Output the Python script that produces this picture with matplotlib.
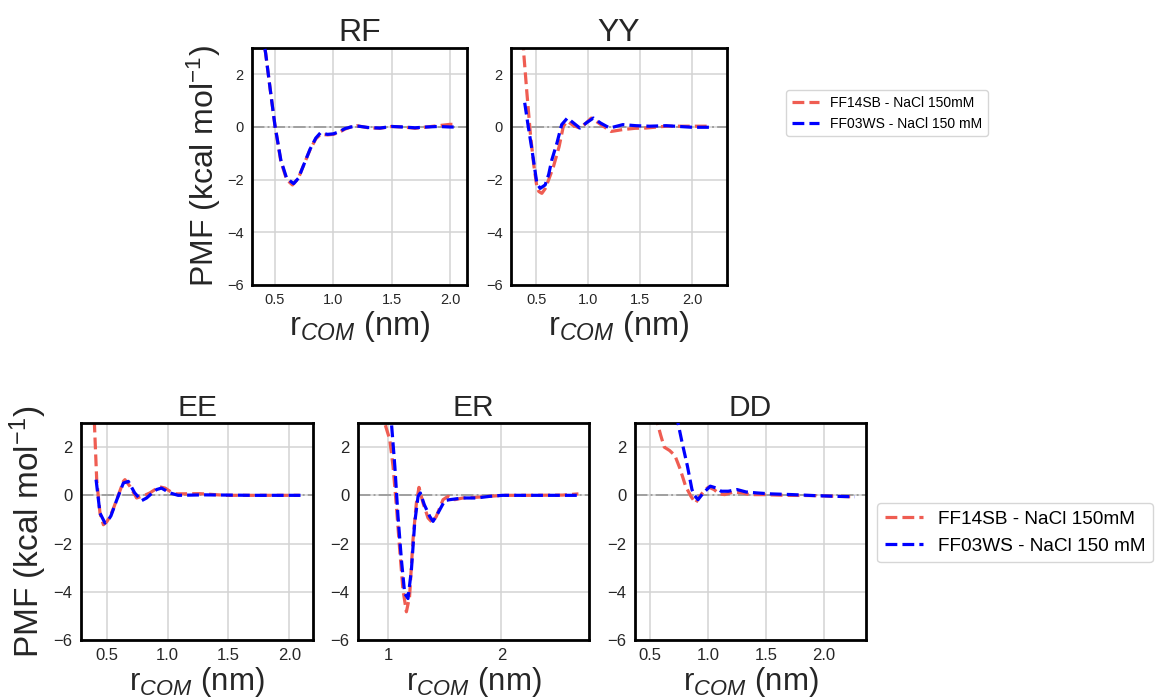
import numpy as np
import matplotlib
matplotlib.use("Agg")
import matplotlib.pyplot as plt

plt.rcParams['font.family'] = ['Liberation Sans', 'DejaVu Sans']
plt.rcParams['mathtext.fontset'] = 'custom'
plt.rcParams['mathtext.rm'] = 'Liberation Sans'
plt.rcParams['mathtext.it'] = 'Liberation Sans:italic'
plt.rcParams['mathtext.bf'] = 'Liberation Sans:bold'

# -----------------------------
# Data
# -----------------------------
LABEL_14 = "FF14SB - NaCl 150mM"
LABEL_03 = "FF03WS - NaCl 150 mM"

# RF
rf_r_14 = [0.39, 0.42, 0.46, 0.50, 0.55, 0.60, 0.65, 0.70, 0.75, 0.80, 0.85, 0.89, 0.95,
           1.00, 1.05, 1.10, 1.15, 1.20, 1.30, 1.40, 1.50, 1.60, 1.70, 1.80, 1.90, 2.00, 2.06]
rf_pmf_14 = [3.6, 2.8, 1.4, 0.05, -1.3, -2.0, -2.2, -1.95, -1.4, -0.87, -0.45, -0.28, -0.3,
             -0.28, -0.2, -0.08, 0.0, 0.05, -0.03, -0.05, 0.02, 0.0, -0.05, 0.0, 0.05, 0.1, 0.1]
rf_r_03 = [0.39, 0.42, 0.46, 0.50, 0.55, 0.60, 0.66, 0.70, 0.75, 0.80, 0.85, 0.89, 0.95,
           1.00, 1.05, 1.10, 1.15, 1.20, 1.30, 1.40, 1.50, 1.60, 1.70, 1.80, 1.90, 2.00, 2.06]
rf_pmf_03 = [3.6, 2.8, 1.4, 0.05, -1.25, -1.95, -2.15, -1.95, -1.4, -0.85, -0.42, -0.22, -0.28,
             -0.26, -0.18, -0.06, 0.0, 0.04, -0.02, -0.04, 0.02, 0.0, -0.03, 0.0, 0.02, 0.0, 0.0]

# YY
yy_r_14 = [0.365, 0.379, 0.41, 0.443, 0.475, 0.506, 0.525, 0.554, 0.585, 0.62, 0.666, 0.72,
           0.761, 0.80, 0.86, 0.92, 0.98, 1.03, 1.12, 1.22, 1.33, 1.45, 1.557, 1.75, 2.0, 2.19]
yy_pmf_14 = [4.0, 2.83, 1.3, -0.23, -1.4, -2.27, -2.45, -2.52, -2.35, -2.0, -1.5, -0.75,
             0.03, 0.22, 0.05, -0.04, 0.15, 0.34, 0.1, -0.17, -0.1, -0.05, -0.04, 0.03, 0.03, 0.03]
yy_r_03 = [0.389, 0.42, 0.459, 0.506, 0.538, 0.586, 0.62, 0.65, 0.70, 0.745, 0.80, 0.86,
           0.92, 0.98, 1.05, 1.12, 1.207, 1.334, 1.46, 1.59, 1.75, 2.0, 2.19]
yy_pmf_03 = [0.92, 0.1, -0.87, -2.14, -2.33, -2.2, -1.8, -1.25, -0.6, 0.09, 0.34, 0.15,
             -0.04, 0.15, 0.34, 0.15, -0.04, 0.09, 0.05, 0.03, 0.05, -0.01, -0.01]

# EE
ee_r_14 = [0.39, 0.399, 0.418, 0.445, 0.473, 0.50, 0.527, 0.555, 0.582, 0.61, 0.637, 0.65,
           0.69, 0.746, 0.787, 0.82, 0.855, 0.90, 0.937, 0.98, 1.019, 1.07, 1.265, 1.48,
           1.70, 1.92, 2.085]
ee_pmf_14 = [3.8, 3.0, 0.65, -0.74, -1.22, -1.1, -0.88, -0.55, -0.18, 0.2, 0.58, 0.65,
             0.38, -0.11, -0.04, 0.02, 0.1, 0.25, 0.35, 0.3, 0.17, 0.06, 0.07, 0.0,
             0.0, 0.0, 0.0]
ee_r_03 = [0.413, 0.445, 0.486, 0.51, 0.535, 0.582, 0.637, 0.678, 0.73, 0.787, 0.828,
           0.87, 0.91, 0.95, 1.02, 1.087, 1.3, 1.5, 1.7, 1.9, 2.1]
ee_pmf_03 = [0.65, -0.74, -1.15, -1.05, -0.85, -0.2, 0.51, 0.58, 0.1, -0.22, -0.11,
             0.08, 0.24, 0.3, 0.1, 0.0, 0.02, 0.01, 0.0, 0.0, 0.0]

# ER
er_r_14 = [0.95, 0.97, 1.015, 1.044, 1.074, 1.103, 1.132, 1.162, 1.19, 1.22, 1.25, 1.273,
           1.309, 1.353, 1.39, 1.426, 1.485, 1.53, 1.588, 1.66, 1.78, 1.90, 2.01, 2.25,
           2.54, 2.68]
er_pmf_14 = [3.6, 3.0, 2.32, 1.21, -0.46, -2.26, -3.93, -4.83, -4.2, -1.85, -0.32, 0.33,
             -0.32, -0.94, -1.125, -0.875, -0.18, -0.04, -0.18, -0.11, -0.08, -0.04, 0.0, 0.0,
             0.01, 0.06]
er_r_03 = [1.02, 1.03, 1.06, 1.088, 1.118, 1.147, 1.176, 1.206, 1.235, 1.265, 1.285, 1.32,
           1.368, 1.397, 1.44, 1.50, 1.544, 1.66, 1.78, 1.90, 2.01, 2.25, 2.54, 2.68]
er_pmf_03 = [3.6, 3.0, 1.2, -0.875, -2.68, -4.07, -4.28, -3.1, -1.15, -0.04, 0.1, -0.39,
             -0.875, -1.08, -0.74, -0.22, -0.18, -0.11, -0.11, -0.04, 0.0, 0.0, 0.0, 0.0]

# DD
dd_r_14 = [0.55, 0.561, 0.592, 0.623, 0.669, 0.715, 0.761, 0.807, 0.853, 0.893, 0.929,
           0.975, 1.006, 1.052, 1.098, 1.144, 1.22, 1.297, 1.36, 1.48, 1.666, 1.911,
           2.095, 2.264]
dd_pmf_14 = [3.4, 3.06, 2.5, 2.0, 1.86, 1.65, 1.08, 0.38, -0.04, -0.32, -0.04,
             0.24, 0.34, 0.24, 0.06, 0.03, 0.14, 0.1, 0.03, 0.03, 0.0, -0.01,
             -0.04, -0.06]
dd_r_03 = [0.73, 0.739, 0.776, 0.822, 0.862, 0.883, 0.914, 0.96, 1.02, 1.067, 1.113,
           1.175, 1.25, 1.328, 1.42, 1.543, 1.727, 1.911, 2.095, 2.264]
dd_pmf_03 = [3.4, 3.06, 2.21, 1.23, 0.24, 0.0, -0.18, 0.1, 0.38, 0.31, 0.17,
             0.17, 0.24, 0.14, 0.1, 0.06, 0.03, -0.01, -0.04, -0.06]

YTICKS = [-6, -4, -2, 0, 2]

# -----------------------------
# Style
# -----------------------------
RED = "#ef5d52"
BLUE = "#0000ff"
LW = 2.3

W, H = 1160, 700
fig = plt.figure(figsize=(W / 100, H / 100), dpi=100)


def px_axes(x0, x1, y0, y1):
    return fig.add_axes([x0 / W, 1 - y1 / H, (x1 - x0) / W, (y1 - y0) / H])


def draw_panel(ax, r14, p14, r03, p03, title, xlim, xticks, xticklabels,
               title_fs, xlabel_fs, ylabel_fs, tick_fs, ylabel=False):
    ax.grid(True, color="#d3d3d3", lw=1.1, zorder=0)
    ax.set_axisbelow(True)
    ax.axhline(0, color="#a0a0a0", ls="-.", lw=1.4, zorder=1)
    ax.plot(r14, p14, ls="--", color=RED, lw=LW, label=LABEL_14, zorder=2)
    ax.plot(r03, p03, ls="--", color=BLUE, lw=LW, label=LABEL_03, zorder=3)
    ax.set_xlim(*xlim)
    ax.set_ylim(-6, 3)
    ax.set_xticks(xticks)
    ax.set_xticklabels(xticklabels)
    ax.set_yticks(YTICKS)
    ax.tick_params(length=0, labelsize=tick_fs, labelcolor="#262626", pad=6)
    for s in ax.spines.values():
        s.set_color("black")
        s.set_linewidth(2.0)
    ax.set_title(title, fontsize=title_fs, color="#262626", pad=5)
    ax.set_xlabel(r"r$_{COM}$ (nm)", fontsize=xlabel_fs, color="#262626", labelpad=1)
    if ylabel:
        ax.set_ylabel(r"PMF (kcal mol$^{-1}$)", fontsize=ylabel_fs, color="#262626", labelpad=3)


xt = [0.5, 1.0, 1.5, 2.0]
xtl = ["0.5", "1.0", "1.5", "2.0"]

# top row
ax_rf = px_axes(252, 467, 48, 285)
draw_panel(ax_rf, rf_r_14, rf_pmf_14, rf_r_03, rf_pmf_03, "RF", (0.303, 2.146),
           xt, xtl, 23, 23.5, 23, 10.5, ylabel=True)
ax_yy = px_axes(511, 727, 48, 285)
draw_panel(ax_yy, yy_r_14, yy_pmf_14, yy_r_03, yy_pmf_03, "YY", (0.257, 2.337),
           xt, xtl, 23, 23.5, 23, 10.5)
ax_yy.legend(loc="upper left", bbox_to_anchor=(786 / W, 1 - 90 / H),
             bbox_transform=fig.transFigure, fontsize=10, frameon=True,
             edgecolor="#cccccc", borderaxespad=0)

# bottom row
ax_ee = px_axes(81, 313, 423, 640)
draw_panel(ax_ee, ee_r_14, ee_pmf_14, ee_r_03, ee_pmf_03, "EE", (0.289, 2.195),
           xt, xtl, 21.5, 22.5, 24, 12, ylabel=True)
ax_er = px_axes(358, 589, 423, 640)
draw_panel(ax_er, er_r_14, er_pmf_14, er_r_03, er_pmf_03, "ER", (0.735, 2.773),
           [1, 2], ["1", "2"], 21.5, 22.5, 24, 12)
ax_dd = px_axes(635, 866, 423, 640)
draw_panel(ax_dd, dd_r_14, dd_pmf_14, dd_r_03, dd_pmf_03, "DD", (0.371, 2.362),
           xt, xtl, 21.5, 22.5, 24, 12)
ax_dd.legend(loc="upper left", bbox_to_anchor=(877 / W, 1 - 503 / H),
             bbox_transform=fig.transFigure, fontsize=13.7, frameon=True,
             edgecolor="#cccccc", borderaxespad=0)

fig.savefig("out.png", dpi=100)
